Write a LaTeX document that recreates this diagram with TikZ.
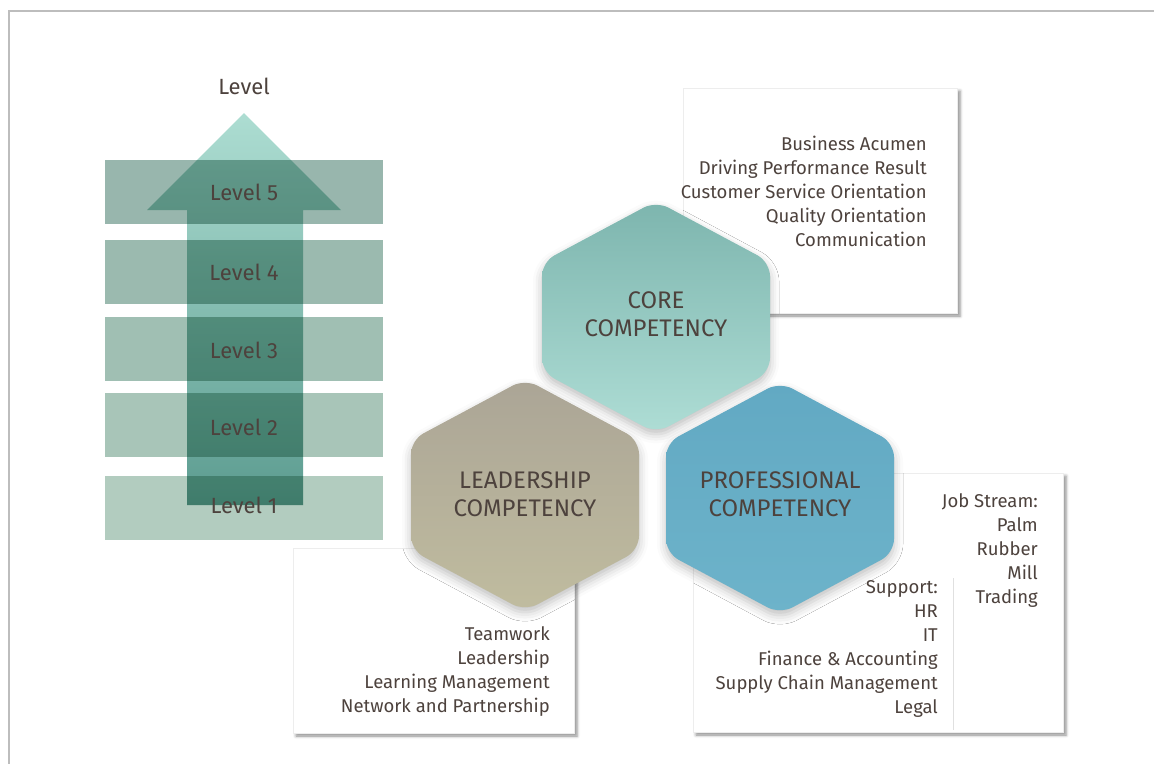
\documentclass[tikz,border=0pt]{standalone}
\usepackage{fontspec}
\setmainfont{Fira Sans}
\usetikzlibrary{shadows.blur}
\definecolor{ink}{HTML}{4D423D}
\definecolor{framegray}{HTML}{BDBDBD}
\definecolor{arrowtop}{HTML}{ADDDD2}
\definecolor{arrowbot}{HTML}{5C9C90}
\definecolor{coretop}{HTML}{7DB5AE}
\definecolor{coremid}{HTML}{98CDC5}
\definecolor{corebot}{HTML}{AEDDD5}
\definecolor{leadtop}{HTML}{ABA596}
\definecolor{leadmid}{HTML}{B6B29C}
\definecolor{leadbot}{HTML}{C0BC9F}
\definecolor{proftop}{HTML}{62A9C3}
\definecolor{profmid}{HTML}{8DC9DA}
\definecolor{profbot}{HTML}{6DB3CA}

\begin{document}
\begin{tikzpicture}[x=1pt,y=-1pt,
    every node/.style={text=ink, inner sep=0pt},
    lvl/.style={font=\fontsize{22}{26}\selectfont},
    lst/.style={align=right, anchor=east, font=\fontsize{18.5}{24}\selectfont},
    hexlabel/.style={align=center, font=\fontsize{24}{28}\selectfont},
    bar/.style={minimum width=278pt, minimum height=64pt},
    listbox/.style={fill=white, draw=black!7, line width=0.6pt,
        blur shadow={shadow xshift=3pt, shadow yshift=-3pt, shadow opacity=45, shadow blur radius=3pt}},
    hexcell/.style={rounded corners=14pt,
        blur shadow={shadow xshift=0pt, shadow yshift=-5pt, shadow opacity=25, shadow blur radius=9pt}}]

\useasboundingbox (0,0) rectangle (1154,764);
\draw[framegray, line width=1.5pt] (1154,11) -- (9,11) -- (9,764);

\foreach \n/\y/\c in {5/192/98B6AD, 4/272/9BBAAF, 3/349/A0BFB3, 2/425/A8C5B8, 1/508/B2CCBF} {
    \definecolor{barfill}{HTML}{\c}
    \node[bar, fill=barfill] (bar\n) at (244,\y) {};
}
\shade[blend mode=multiply, top color=arrowtop, bottom color=arrowbot]
    (187,505) -- (187,210) -- (147,210) -- (244,113) -- (341,210) -- (303,210) -- (303,505) -- cycle;
\node[lvl] (level) at (244,86) {Level};
\foreach \n/\y in {5/192, 4/272, 3/350, 2/427, 1/505}
    \node[lvl] (lvl\n) at (244,\y) {Level \n};

\draw[listbox] (683,88) rectangle (957,313);
\draw[listbox] (293,548) rectangle (574,733);
\draw[listbox] (693,473) rectangle (1063,732);
\draw[black!12] (953,578) -- (953,730);

\foreach \name/\cx/\cy/\ly/\txt in {core/656/317/314/{CORE\\COMPETENCY},
    lead/525/495/494/{LEADERSHIP\\COMPETENCY}, prof/780/498/494/{PROFESSIONAL\\COMPETENCY}} {
    \shade[hexcell, top color=\name top, middle color=\name mid, bottom color=\name bot]
        (\cx,\cy-116) -- ++(114,61) -- ++(0,110) -- ++(-114,61) -- ++(-114,-61) -- ++(0,-110) -- cycle;
    \node[hexlabel] (\name) at (\cx,\ly) {\txt};
}

\node[lst] (corelist) at (927,191) {Business Acumen\\Driving Performance Result\\Customer Service Orientation\\Quality Orientation\\Communication};
\node[lst] (leadlist) at (550,672) {Teamwork\\Leadership\\Learning Management\\Network and Partnership};
\node[lst] (jobstream) at (1038,551) {Job Stream:\\Palm\\Rubber\\Mill\\Trading};
\node[lst] (support) at (938,649) {Support:\\HR\\IT\\Finance \& Accounting\\Supply Chain Management\\Legal};
\end{tikzpicture}
\end{document}
